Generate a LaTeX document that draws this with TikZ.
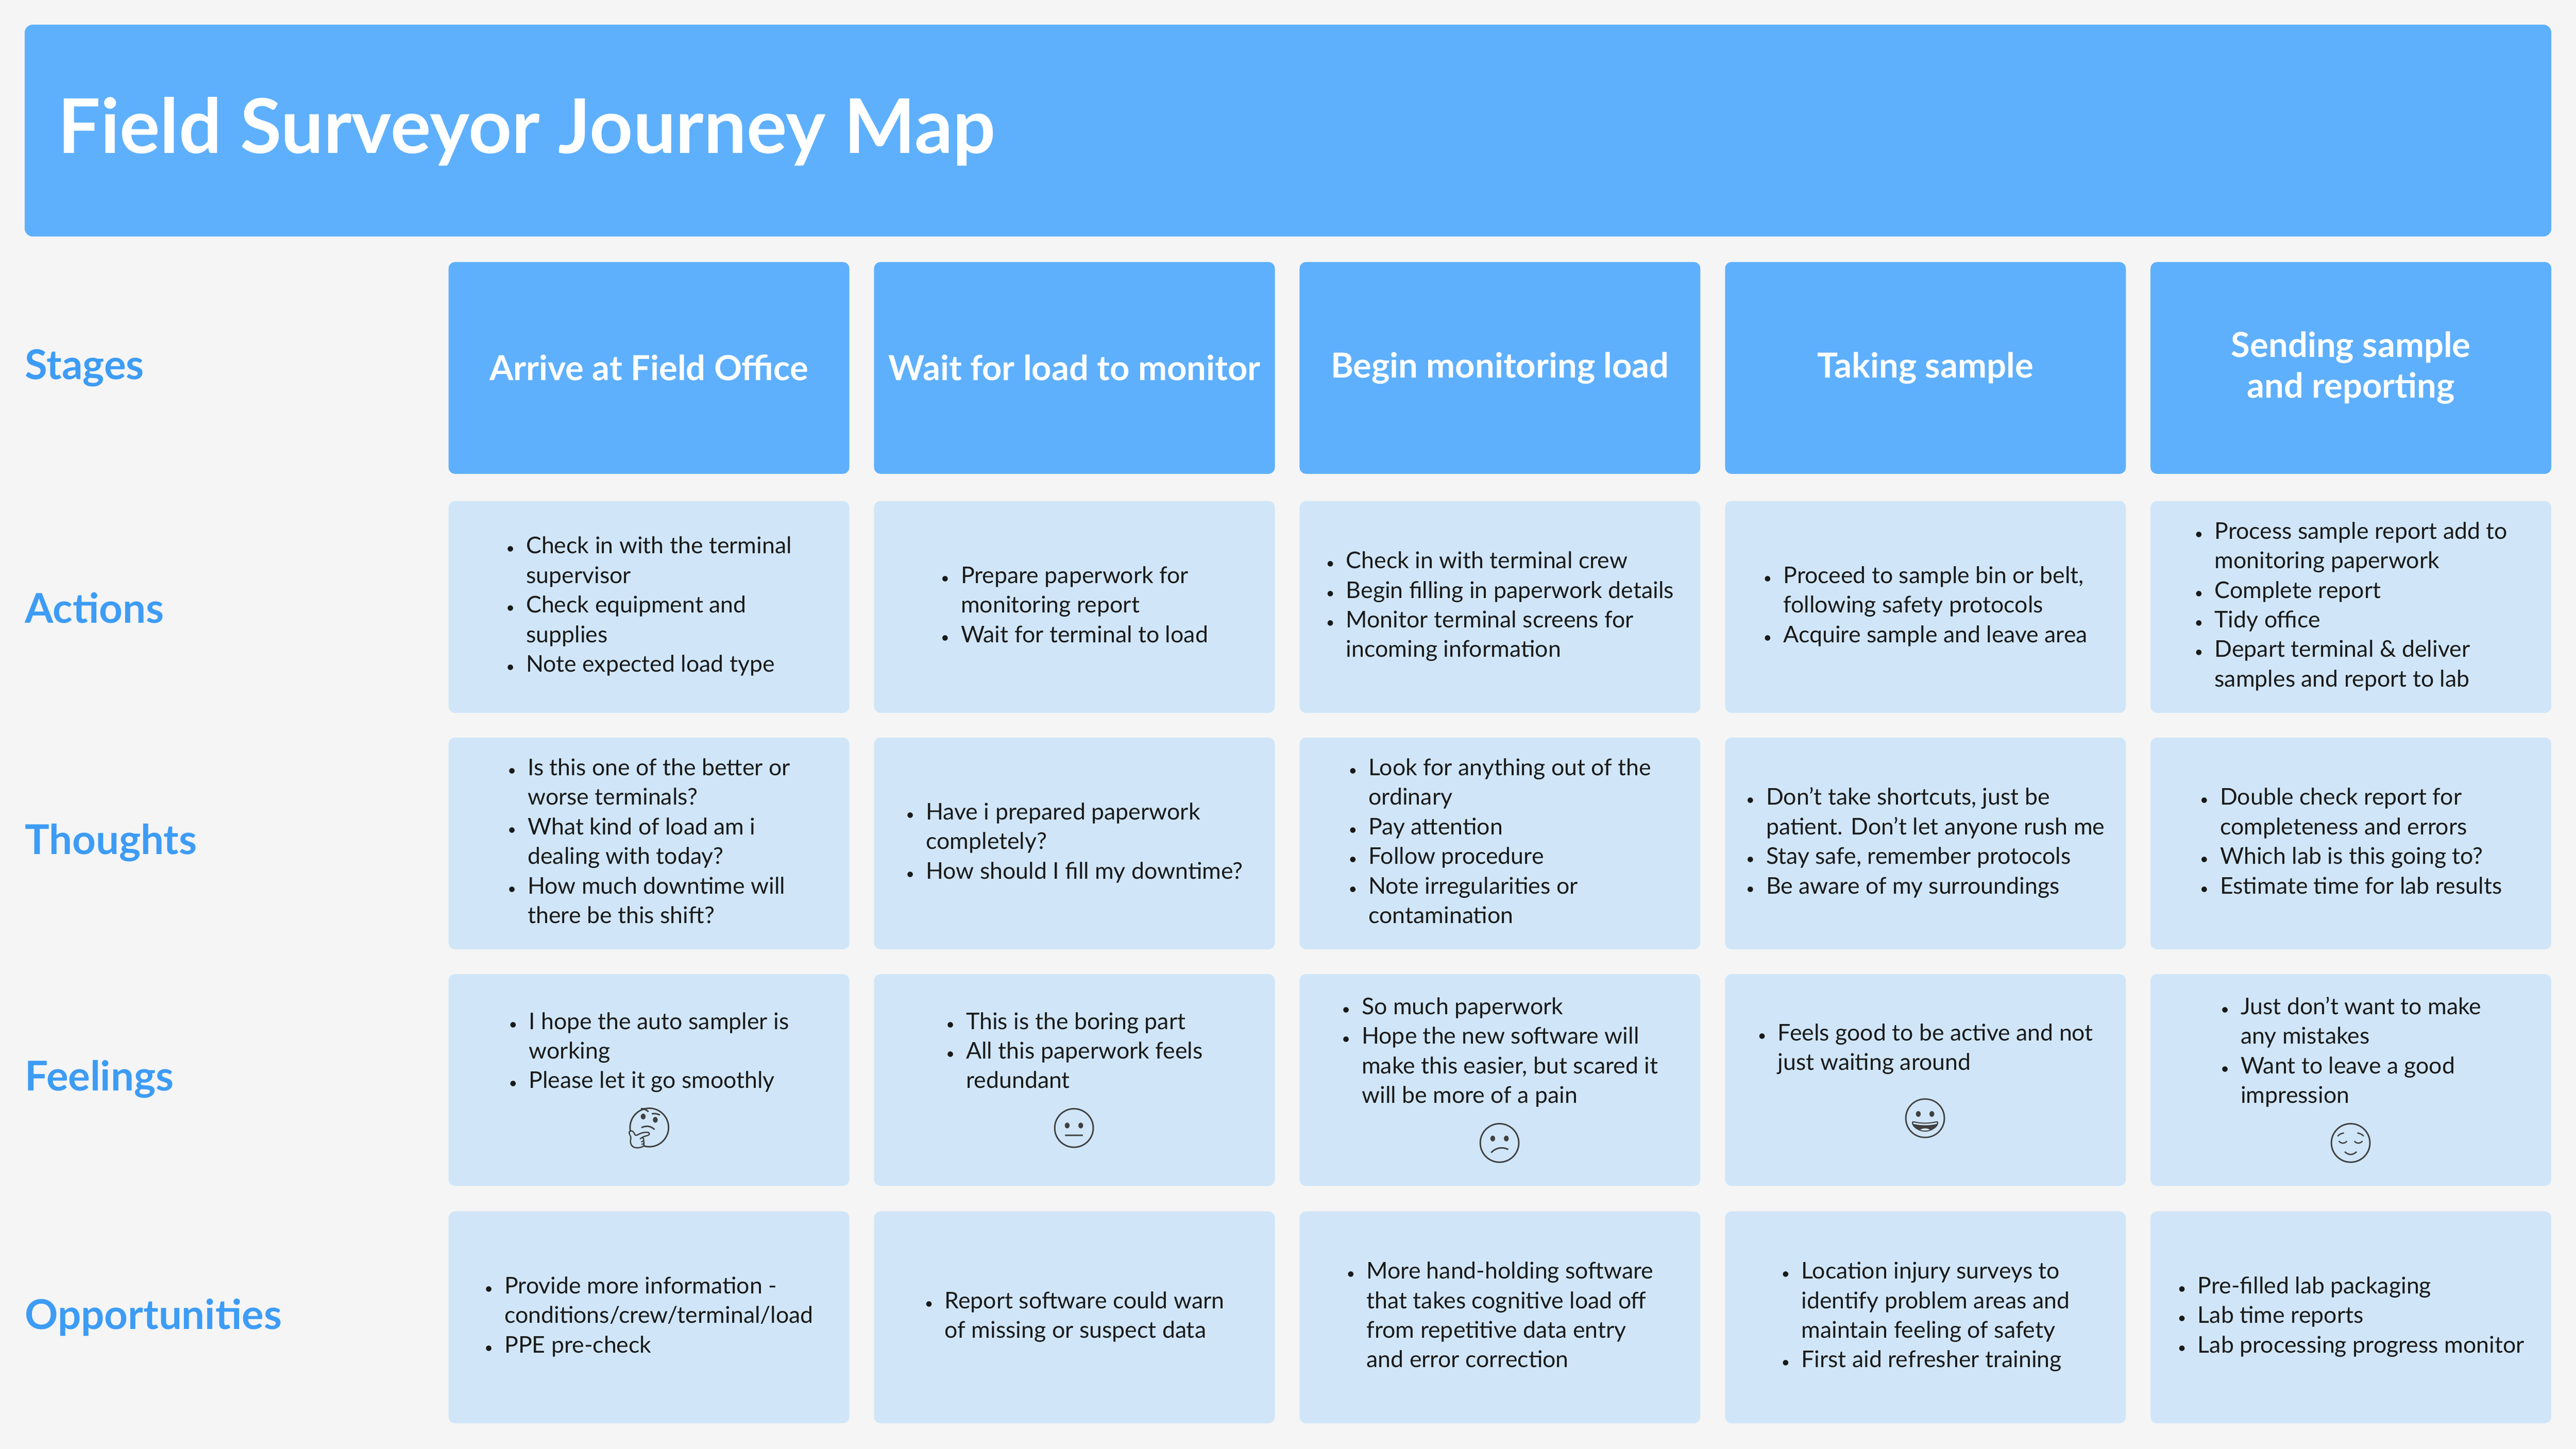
\documentclass[tikz,border=0pt]{standalone}
\usepackage{fontspec}
\setmainfont{Lato}
\newfontfamily\emo{Noto Emoji}
\definecolor{bg}{HTML}{F5F5F5}
\definecolor{hdr}{HTML}{5EB0FD}
\definecolor{cellc}{HTML}{D0E6F8}
\definecolor{lbl}{HTML}{3D9CF5}
\definecolor{txt}{HTML}{1A1A1A}
\newcommand{\bu}{{\fontsize{9}{9}\selectfont •}}
\newcommand{\bl}[1]{{\fontsize{14}{18}\selectfont\begin{tabular}{@{}l@{\hspace{7pt}}l@{}}#1\end{tabular}}}
\tikzset{
 cell/.style={fill=cellc,rounded corners=4pt,minimum width=244pt,minimum height=129pt,inner sep=0pt,draw=none},
 stagebox/.style={fill=hdr,rounded corners=4pt,minimum width=244pt,minimum height=129pt,inner sep=0pt,text=white,font=\fontsize{21}{25}\selectfont\bfseries,align=center},
 ctext/.style={text=txt,inner sep=0pt,align=left},
 rowlbl/.style={anchor=west,text=lbl,font=\fontsize{25}{29}\selectfont\bfseries,inner sep=0pt},
 emoji/.style={font=\emo\fontsize{24}{24}\selectfont,text=black!75,inner sep=0pt}
}
\begin{document}
\begin{tikzpicture}[x=1pt,y=-1pt]
\fill[bg] (0,0) rectangle (1568,882);
\useasboundingbox (0,0) rectangle (1568,882);
\fill[hdr,rounded corners=5pt] (15,15) rectangle (1553,144);
\node[anchor=west,text=white,font=\fontsize{46}{52}\selectfont\bfseries,inner sep=0pt] (title) at (35,80) {Field Surveyor Journey Map};
% row labels
\node[rowlbl] (l1) at (15,224) {Stages};
\node[rowlbl] (l2) at (15,370) {Actions};
\node[rowlbl] (l3) at (15,513) {Thoughts};
\node[rowlbl] (l4) at (15,657) {Feelings};
\node[rowlbl] (l5) at (15,802) {Opportunities};
% stages
\node[stagebox] (s1) at (395,224) {Arrive at Field Office};
\node[stagebox] (s2) at (654,224) {Wait for load to monitor};
\node[stagebox] (s3) at (913,224) {Begin monitoring load};
\node[stagebox] (s4) at (1172,224) {Taking sample};
\node[stagebox] (s5) at (1431,224) {Sending sample\\and reporting};
% cells
\foreach \c/\x in {1/395,2/654,3/913,4/1172,5/1431}{
 \node[cell] (a\c) at (\x,369.5) {};
 \node[cell] (t\c) at (\x,513.5) {};
 \node[cell] (f\c) at (\x,657.5) {};
 \node[cell] (o\c) at (\x,802) {};
}
% actions
\node[ctext] (a1t) at (a1.center) {\bl{\bu & Check in with the terminal\\ & supervisor\\ \bu & Check equipment and\\ & supplies\\ \bu & Note expected load type}};
\node[ctext] (a2t) at (a2.center) {\bl{\bu & Prepare paperwork for\\ & monitoring report\\ \bu & Wait for terminal to load}};
\node[ctext] (a3t) at (a3.center) {\bl{\bu & Check in with terminal crew\\ \bu & Begin filling in paperwork details\\ \bu & Monitor terminal screens for\\ & incoming information}};
\node[ctext] (a4t) at (a4.center) {\bl{\bu & Proceed to sample bin or belt,\\ & following safety protocols\\ \bu & Acquire sample and leave area}};
\node[ctext] (a5t) at (a5.center) {\bl{\bu & Process sample report add to\\ & monitoring paperwork\\ \bu & Complete report\\ \bu & Tidy office\\ \bu & Depart terminal \& deliver\\ & samples and report to lab}};
% thoughts
\node[ctext] (t1t) at (t1.center) {\bl{\bu & Is this one of the better or\\ & worse terminals?\\ \bu & What kind of load am i\\ & dealing with today?\\ \bu & How much downtime will\\ & there be this shift?}};
\node[ctext] (t2t) at (t2.center) {\bl{\bu & Have i prepared paperwork\\ & completely?\\ \bu & How should I fill my downtime?}};
\node[ctext] (t3t) at (t3.center) {\bl{\bu & Look for anything out of the\\ & ordinary\\ \bu & Pay attention\\ \bu & Follow procedure\\ \bu & Note irregularities or\\ & contamination}};
\node[ctext] (t4t) at (t4.center) {\bl{\bu & Don't take shortcuts, just be\\ & patient. Don't let anyone rush me\\ \bu & Stay safe, remember protocols\\ \bu & Be aware of my surroundings}};
\node[ctext] (t5t) at (t5.center) {\bl{\bu & Double check report for\\ & completeness and errors\\ \bu & Which lab is this going to?\\ \bu & Estimate time for lab results}};
% feelings
\node[ctext] (f1t) at (395,641) {\bl{\bu & I hope the auto sampler is\\ & working\\ \bu & Please let it go smoothly}};
\node[emoji] (f1e) at (395,687) {🤔};
\node[ctext] (f2t) at (654,641) {\bl{\bu & This is the boring part\\ \bu & All this paperwork feels\\ & redundant}};
\node[emoji] (f2e) at (654,687) {😐};
\node[ctext] (f3t) at (913,641) {\bl{\bu & So much paperwork\\ \bu & Hope the new software will\\ & make this easier, but scared it\\ & will be more of a pain}};
\node[emoji] (f3e) at (913,696) {😕};
\node[ctext] (f4t) at (1172,639) {\bl{\bu & Feels good to be active and not\\ & just waiting around}};
\node[emoji] (f4e) at (1172,681) {😀};
\node[ctext] (f5t) at (1431,641) {\bl{\bu & Just don't want to make\\ & any mistakes\\ \bu & Want to leave a good\\ & impression}};
\node[emoji] (f5e) at (1431,696) {😌};
% opportunities
\node[ctext] (o1t) at (o1.center) {\bl{\bu & Provide more information -\\ & conditions/crew/terminal/load\\ \bu & PPE pre-check}};
\node[ctext] (o2t) at (o2.center) {\bl{\bu & Report software could warn\\ & of missing or suspect data}};
\node[ctext] (o3t) at (o3.center) {\bl{\bu & More hand-holding software\\ & that takes cognitive load off\\ & from repetitive data entry\\ & and error correction}};
\node[ctext] (o4t) at (o4.center) {\bl{\bu & Location injury surveys to\\ & identify problem areas and\\ & maintain feeling of safety\\ \bu & First aid refresher training}};
\node[ctext] (o5t) at (o5.center) {\bl{\bu & Pre-filled lab packaging\\ \bu & Lab time reports\\ \bu & Lab processing progress monitor}};
\end{tikzpicture}
\end{document}
